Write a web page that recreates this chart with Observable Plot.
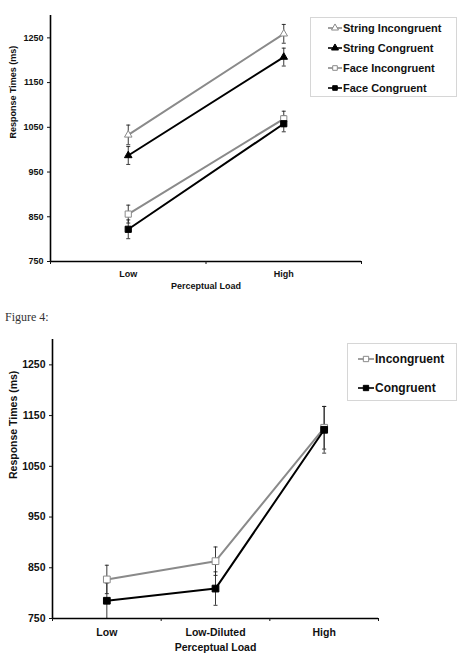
<!DOCTYPE html>
<html><head><meta charset="utf-8">
<script src="https://cdn.jsdelivr.net/npm/d3@7"></script>
<script src="https://cdn.jsdelivr.net/npm/@observablehq/plot@0.6"></script>
<style>
body{margin:0;background:#fff;}
#wrap{position:relative;width:458px;height:653px;overflow:hidden;background:#fff;font-family:"Liberation Sans",Arial,sans-serif;}
.chart{position:absolute;left:0;}
.legend{position:absolute;border:1px solid #d6d6d6;background:#fff;box-sizing:border-box;font-weight:bold;color:#111;}
.item{position:absolute;display:flex;align-items:center;white-space:nowrap;}
.item svg{display:block;}
#fig{position:absolute;left:5px;top:310px;font-family:"Liberation Serif","Times New Roman",serif;font-size:12px;line-height:14px;color:#333;}
</style></head>
<body><div id="wrap">
<div id="c1" class="chart" style="top:0"></div>
<div id="leg1" class="legend" style="left:310px;top:17px;width:147px;height:80px;"></div>
<div id="fig">Figure 4:</div>
<div id="c2" class="chart" style="top:325px"></div>
<div id="leg2" class="legend" style="left:347px;top:343px;width:110px;height:58px;"></div>
</div>
<script>
// ---------- data ----------
const loads1 = ["Low", "High"];
const stringIncong = [1033, 1259];
const stringIncongErr = [22, 21];
const stringCong = [987, 1207];
const stringCongErr = [20, 20];
const faceIncong = [856, 1069];
const faceIncongErr = [20, 17];
const faceCong = [822, 1058];
const faceCongErr = [21, 18];

const loads2 = ["Low", "Low-Diluted", "High"];
const incong2 = [827, 863, 1126];
const incong2Err = [28, 28, 42];
const cong2 = [785, 809, 1122];
const cong2Err = [35, 33, 46];

const yTicks = [750, 850, 950, 1050, 1150, 1250];
const yLabel = "Response Times (ms)";
const xLabel = "Perceptual Load";

const GRAY = "#8a8a8a";
const series1 = [
  {name: "String Incongruent", values: stringIncong, err: stringIncongErr, color: GRAY, symbol: "triangle", open: true},
  {name: "String Congruent", values: stringCong, err: stringCongErr, color: "#000", symbol: "triangle", open: false},
  {name: "Face Incongruent", values: faceIncong, err: faceIncongErr, color: GRAY, symbol: "square", open: true},
  {name: "Face Congruent", values: faceCong, err: faceCongErr, color: "#000", symbol: "square", open: false}
];
const series2 = [
  {name: "Incongruent", values: incong2, err: incong2Err, color: GRAY, symbol: "square", open: true},
  {name: "Congruent", values: cong2, err: cong2Err, color: "#000", symbol: "square", open: false}
];

// horizontal cap symbol for error bars
const capSymbol = {draw(ctx, size) { const w = Math.sqrt(size / Math.PI); ctx.moveTo(-w, 0); ctx.lineTo(w, 0); }};

function rowsOf(s, loads) {
  return loads.map((load, i) => ({series: s.name, load, pos: i + 0.5, rt: s.values[i], err: s.err[i]}));
}

function makeChart(series, loads, o) {
  const marks = [];
  for (const s of series) {
    const data = rowsOf(s, loads);
    marks.push(Plot.line(data, {x: "pos", y: "rt", stroke: s.color, strokeWidth: 2}));
  }
  for (const s of series) {
    const data = rowsOf(s, loads);
    marks.push(Plot.ruleX(data, {x: "pos", y1: d => d.rt - d.err, y2: d => d.rt + d.err, stroke: "#222", strokeWidth: 0.9}));
    marks.push(Plot.dot(data, {x: "pos", y: d => d.rt - d.err, symbol: capSymbol, r: 2, stroke: "#222", strokeWidth: 0.9, fill: "none"}));
    marks.push(Plot.dot(data, {x: "pos", y: d => d.rt + d.err, symbol: capSymbol, r: 2, stroke: "#222", strokeWidth: 0.9, fill: "none"}));
  }
  for (const s of series) {
    const data = rowsOf(s, loads);
    marks.push(Plot.dot(data, {x: "pos", y: "rt", symbol: s.symbol, r: s.symbol === "triangle" ? o.rTri : o.rSq,
      fill: s.open ? "white" : "black", stroke: s.open ? s.color : "black", strokeWidth: 1}));
  }
  const n = loads.length;
  marks.push(Plot.ruleY([750], {stroke: "#000", strokeWidth: 1.6}));
  marks.push(Plot.ruleX([0], {stroke: "#000", strokeWidth: 1.6}));
  marks.push(Plot.axisY({ticks: yTicks, tickSize: 3, tickPadding: 4, tickFormat: d => String(d), label: null, fontSize: o.fs, fontWeight: "bold"}));
  marks.push(Plot.axisX({ticks: d3.range(n + 1), tickSize: 3, tickFormat: () => "", label: null}));
  marks.push(Plot.axisX({ticks: loads.map((d, i) => i + 0.5), tickSize: 0, tickPadding: o.xPad,
    tickFormat: v => loads[Math.floor(v)], label: null, fontSize: o.fs, fontWeight: "bold"}));
  marks.push(Plot.text([xLabel], {frameAnchor: "bottom", dy: o.xLabDy, fontSize: o.fs, fontWeight: "bold", fill: "#111"}));
  marks.push(Plot.text([yLabel], {frameAnchor: "left", dx: o.yLabDx, rotate: -90, fontSize: o.fs, fontWeight: "bold", fill: "#111"}));
  return Plot.plot({
    width: 458, height: o.height,
    marginLeft: o.ml, marginRight: o.mr, marginTop: o.mt, marginBottom: o.mb,
    x: {type: "linear", domain: [0, n]},
    y: {domain: [750, 1300]},
    style: {fontFamily: "'Liberation Sans', Arial, sans-serif", fontSize: o.fs + "px", fontWeight: "bold", color: "#111", background: "white", overflow: "visible"},
    marks
  });
}

document.getElementById("c1").append(makeChart(series1, loads1,
  {height: 300, ml: 50, mr: 97, mt: 15, mb: 39, fs: 9, xPad: 9, xLabDy: 27, yLabDx: -37, rTri: 2.8, rSq: 3.5}));
document.getElementById("c2").append(makeChart(series2, loads2,
  {height: 328, ml: 52, mr: 80, mt: 14, mb: 35, fs: 10.5, xPad: 10.5, xLabDy: 32, yLabDx: -39, rTri: 3, rSq: 3.8}));

// ---------- legends ----------
function swatch(s, w, r) {
  const h = 12;
  const svg = d3.create("svg").attr("width", w).attr("height", h);
  svg.append("line").attr("x1", 0).attr("x2", w).attr("y1", h / 2).attr("y2", h / 2)
    .attr("stroke", s.color).attr("stroke-width", 1.6);
  const sym = s.symbol === "triangle" ? d3.symbolTriangle : d3.symbolSquare;
  svg.append("path").attr("d", d3.symbol(sym, r * r * Math.PI)())
    .attr("transform", `translate(${w / 2},${h / 2})`)
    .attr("fill", s.open ? "white" : "black").attr("stroke", s.open ? s.color : "black").attr("stroke-width", 1);
  return svg.node();
}
function legend(el, series, o) {
  series.forEach((s, i) => {
    const it = document.createElement("div");
    it.className = "item";
    it.style.left = o.left + "px";
    it.style.top = (o.first + i * o.step - 7) + "px";
    it.style.height = "14px";
    it.style.fontSize = o.fs + "px";
    it.append(swatch(s, o.w, o.r));
    const t = document.createElement("span");
    t.textContent = s.name;
    t.style.marginLeft = "1px";
    it.append(t);
    el.append(it);
  });
}
legend(document.getElementById("leg1"), series1, {left: 17, first: 10, step: 20, fs: 11, w: 14, r: 2.6});
legend(document.getElementById("leg2"), series2, {left: 10, first: 15, step: 29, fs: 12, w: 16, r: 3});
</script>
</body></html>
